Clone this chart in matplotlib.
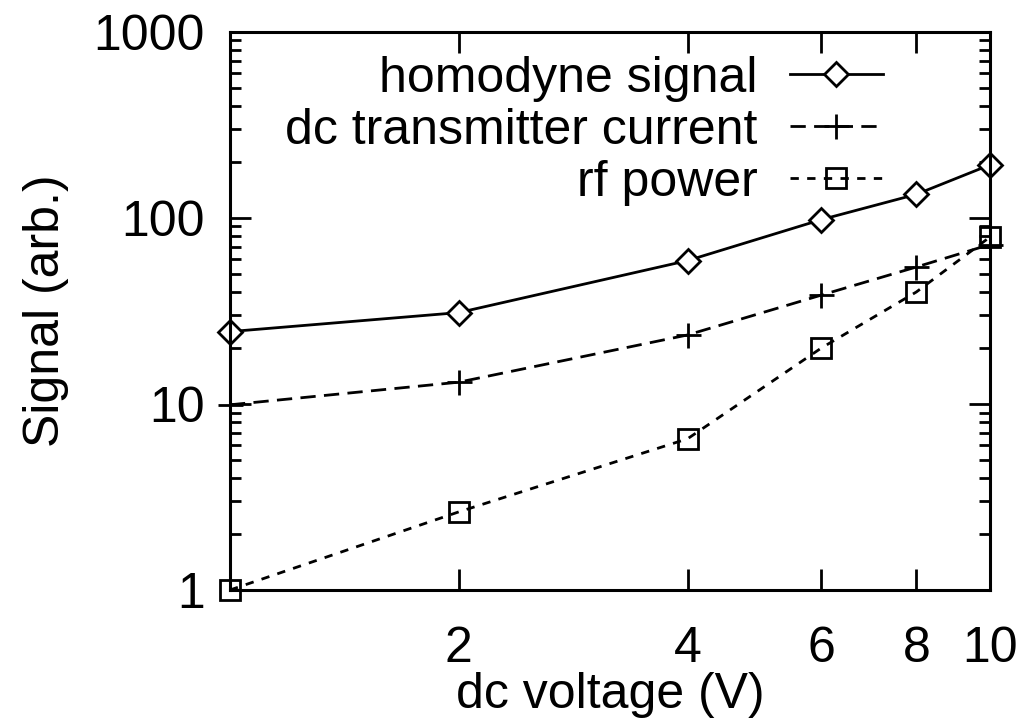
import matplotlib
matplotlib.use("Agg")
import matplotlib.pyplot as plt
from matplotlib.ticker import FixedLocator, NullLocator, LogLocator, NullFormatter

plt.rcParams["font.family"] = ["Liberation Sans", "DejaVu Sans"]

voltage = [1, 2, 4, 6, 8, 10]
homodyne = [24.5, 31, 59, 98, 134, 193]
dc_current = [9.9, 13.1, 23.5, 38.5, 54.5, 72]
rf_power = [1.0, 2.63, 6.5, 20, 40, 79]

x_ticks = [2, 4, 6, 8, 10]
y_ticks = [1, 10, 100, 1000]

fig = plt.figure(figsize=(10.28, 7.25), dpi=100)
ax = fig.add_axes([0.2237, 0.1862, 0.963 - 0.2237, 0.9559 - 0.1862])

lw = 2.0
ax.plot(voltage, homodyne, "-", color="black", lw=lw, marker="D", ms=12,
        mfc="white", mec="black", mew=2, label="homodyne signal", clip_on=False)
ax.plot(voltage, dc_current, color="black", lw=lw, dashes=(5.5, 3), marker="+",
        ms=18, mew=2, label="dc transmitter current", clip_on=False)
ax.plot(voltage, rf_power, color="black", lw=lw, dashes=(3, 3), marker="s",
        ms=14, mfc="none", mec="black", mew=2, label="rf power", clip_on=False)

ax.set_xscale("log")
ax.set_yscale("log")
ax.set_xlim(1, 10)
ax.set_ylim(1, 1000)

ax.xaxis.set_major_locator(FixedLocator(x_ticks))
ax.xaxis.set_minor_locator(NullLocator())
ax.set_xticklabels([str(t) for t in x_ticks])
ax.yaxis.set_major_locator(FixedLocator(y_ticks))
ax.set_yticklabels([str(t) for t in y_ticks])
ax.yaxis.set_minor_locator(LogLocator(base=10, subs=range(2, 10)))
ax.yaxis.set_minor_formatter(NullFormatter())

for s in ax.spines.values():
    s.set_linewidth(2.2)
ax.tick_params(which="both", direction="in", top=True, right=True, width=2)
ax.tick_params(which="major", length=15, labelsize=36)
ax.tick_params(which="minor", length=8)
ax.tick_params(axis="x", pad=26)
ax.tick_params(axis="y", pad=18)

ax.set_xlabel("dc voltage (V)", fontsize=36, labelpad=0)
ax.set_ylabel("Signal (arb.)", fontsize=36, labelpad=18)

ax.legend(loc="upper right", bbox_to_anchor=(0.905, 1.02), frameon=False,
          markerfirst=False, alignment="right", fontsize=36, handlelength=1.86,
          handletextpad=0.65, labelspacing=0.12, borderaxespad=0.3)

fig.savefig("out.png", dpi=100)
